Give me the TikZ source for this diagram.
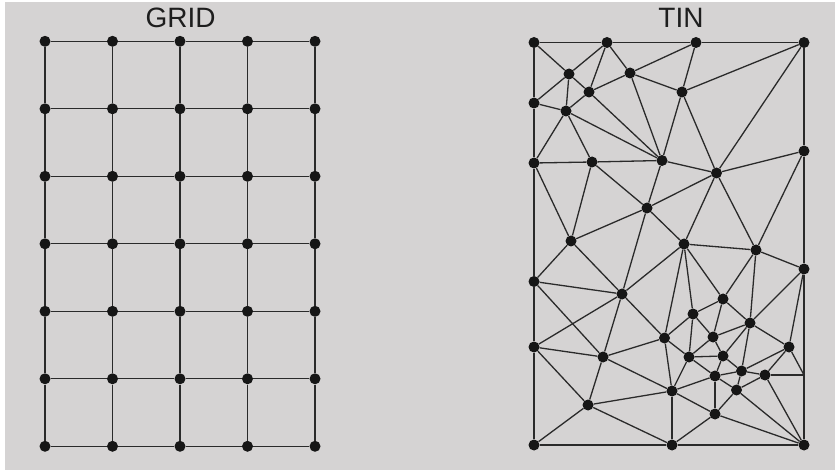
\documentclass[tikz,border=0pt]{standalone}
\usepackage{fontspec}
\setmainfont{Liberation Sans}
\definecolor{bg}{RGB}{213,211,211}
\definecolor{ln}{RGB}{42,42,42}
\definecolor{dt}{RGB}{22,22,22}
\definecolor{tx}{RGB}{30,30,30}
\begin{document}
\begin{tikzpicture}[x=1pt,y=-1pt,
  dot/.style={circle,fill=dt,inner sep=0pt,minimum size=11pt},
  edge/.style={draw=ln,line width=1.3pt},
  title/.style={font=\fontsize{28}{28}\selectfont,text=tx,anchor=base,inner sep=0pt}]
\useasboundingbox (0,0) rectangle (835,470);
\fill[white] (0,0) rectangle (835,470);
\fill[bg] (5,2) rectangle (835,470);
% titles
\node[title] (gridtitle) at (180.5,27.5) {GRID};
\node[title] (tintitle) at (681,27.5) {TIN};
% grid
\foreach \i in {0,...,4}
  \foreach \j in {0,...,6}
    \node[dot] (g\i\j) at ({45+67.5*\i},{41.3+67.5*\j}) {};
\foreach \i in {0,...,3} {
  \pgfmathtruncatemacro\k{\i+1}
  \foreach \j in {0,...,6} \draw[edge] (g\i\j) -- (g\k\j);
}
\foreach \i in {0,...,4} {
  \foreach \j in {0,...,5} {
    \pgfmathtruncatemacro\m{\j+1}
    \draw[edge] (g\i\j) -- (g\i\m);
  }
}
% TIN nodes
\foreach \n/\x/\y in {T1/534/42.5, T2/607/42.5, T3/696/42.5, T4/804/42.5,
  N1/569/74, N2/630/73, N3/589/92, N4/566/111, N5/682/92,
  L1/534/103, L2/534/163, L3/534/281.5, L4/534/347, BL/534/445,
  N6/592/162, N7/662/160.5, N8/716.5/173, R1/804/151,
  N9/647/208, N10/571/241, N11/622/294, N12/684/244, N13/756/250, R2/804/269,
  N14/723/299, N19/693/314, N20/750/323, N16/664.5/338, N21/713/337, N22/789/347,
  N15/603/357, N23/689/357, N24/723/356, N25/741.5/371, N26/715/376, N27/765/375,
  N17/672/391, N28/736.5/390, N18/588/405, N29/715/414, B1/672/445, BR/804/445}
  \node[dot] (\n) at (\x,\y) {};
\coordinate (R3) at (804,375);
% TIN edges
\foreach \a/\b in {T1/T2, T2/T3, T3/T4, T4/R1, R1/R2, R2/R3, R3/BR, BR/B1, B1/BL,
  BL/L4, L4/L3, L3/L2, L2/L1, L1/T1,
  T1/N1, T2/N1, T2/N3, T2/N2, N1/N3, N1/L1, N1/N4, N3/N4, N3/N2, N3/N7, N2/T3,
  N2/N5, N2/N7, L1/N4, N4/L2, N4/N6, N4/N7, L2/N6, N6/N7, N7/N5, N7/N8, T3/N5,
  N5/T4, T4/N8, N5/N8, N8/R1,
  L2/N10, N6/N10, N6/N9, N7/N9, N9/N8, N9/N10, N9/N12, N9/N11, N10/L3, N10/N11,
  L3/N11, N11/N12,
  N8/N12, N8/N13, R1/N13, N12/N13, N13/R2, N12/N16, N12/N19, N12/N14, N13/N14,
  N13/N20, R2/N20, R2/N22,
  L3/N15, N11/L4, N11/N15, N11/N16, L4/N15, L4/N18, N15/N16, N15/N18, N15/N17,
  N16/N17, N18/N17, N18/BL, N18/B1, N17/B1,
  N14/N19, N14/N21, N14/N20, N19/N16, N19/N21, N19/N23, N21/N20, N21/N23, N21/N24,
  N20/N24, N23/N24, N23/N16, N23/N17, N23/N26, N24/N26, N24/N25, N26/N25, N26/N17,
  N26/N28, N26/N29, N25/N27, N25/N28, N25/N22, N25/N20, N27/N22, N27/N28, N27/R3,
  N22/R3, N27/BR, N28/BR, N28/N29, N29/BR, N29/B1, N29/N17, N20/N22}
  \draw[edge] (\a) -- (\b);
\end{tikzpicture}
\end{document}
